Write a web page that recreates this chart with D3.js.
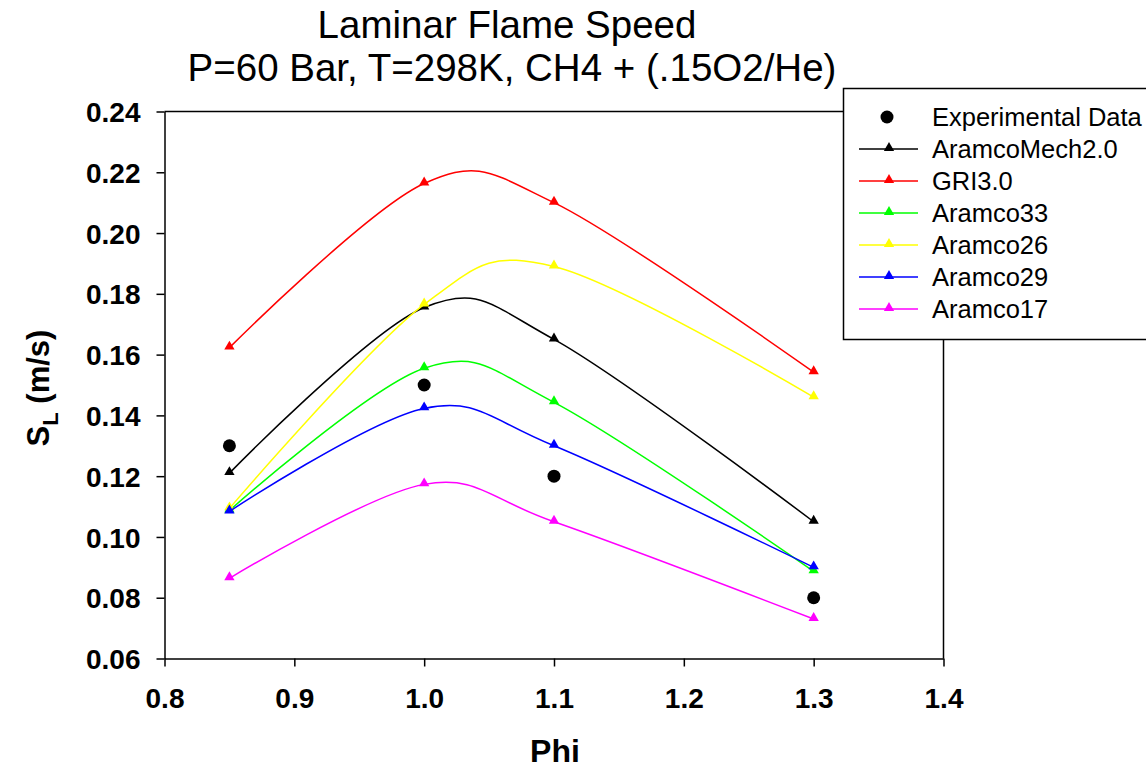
<!DOCTYPE html>
<html>
<head>
<meta charset="utf-8">
<script src="https://cdn.jsdelivr.net/npm/d3@7"></script>
<style>
  body { margin: 0; background: #fff; }
  svg { font-family: "Liberation Sans", Arial, sans-serif; }
  .tick text { font-weight: bold; font-size: 28px; fill: #000; }
</style>
</head>
<body>
<svg width="1146" height="768"></svg>
<script>
// phi values
var phi = [0.85, 1.0, 1.1, 1.3]

var expData = [0.130, 0.150, 0.120, 0.080]
var aramcoMech20 = [0.121, 0.1755, 0.165, 0.105]
var gri30 = [0.1623, 0.2163, 0.210, 0.1542]
var aramco33 = [0.1087, 0.1555, 0.1443, 0.0887]
var aramco26 = [0.1094, 0.1765, 0.189, 0.146]
var aramco29 = [0.1084, 0.1423, 0.130, 0.090]
var aramco17 = [0.0864, 0.1173, 0.105, 0.073]

var seriesNames = ['AramcoMech2.0', 'GRI3.0', 'Aramco33', 'Aramco26', 'Aramco29', 'Aramco17']
var seriesColors = ['#000000', '#ff0000', '#00ff00', '#ffff00', '#0000ff', '#ff00ff']
var seriesValues = [aramcoMech20, gri30, aramco33, aramco26, aramco29, aramco17]

var xTicks = [0.8, 0.9, 1.0, 1.1, 1.2, 1.3, 1.4]
var yTicks = [0.06, 0.08, 0.10, 0.12, 0.14, 0.16, 0.18, 0.20, 0.22, 0.24]

var svg = d3.select('svg')
var margin = { left: 164.5, top: 111.5, right: 943.5, bottom: 658.5 }

var x = d3.scaleLinear().domain([0.8, 1.4]).range([margin.left, margin.right])
var y = d3.scaleLinear().domain([0.06, 0.24]).range([margin.bottom, margin.top])

// frame (top and right sides)
svg.append('path')
  .attr('d', 'M' + margin.left + ',' + margin.top + 'H' + margin.right + 'V' + margin.bottom)
  .attr('fill', 'none').attr('stroke', '#000').attr('stroke-width', 1.5)

var xAxis = svg.append('g')
  .attr('transform', 'translate(0,' + margin.bottom + ')')
  .call(d3.axisBottom(x).tickValues(xTicks).tickFormat(d3.format('.1f')).tickSizeInner(8).tickSizeOuter(0).tickPadding(22))
var yAxis = svg.append('g')
  .attr('transform', 'translate(' + margin.left + ',0)')
  .call(d3.axisLeft(y).tickValues(yTicks).tickFormat(d3.format('.2f')).tickSizeInner(8).tickSizeOuter(0).tickPadding(16))
svg.selectAll('.domain, .tick line').attr('stroke', '#000').attr('stroke-width', 1.5)
yAxis.selectAll('.tick text').attr('dy', '0.36em')
xAxis.selectAll('.tick text').attr('dy', '0.71em')

var tri = d3.symbol().type(d3.symbolTriangle).size(46)

var line = d3.line()
  .x(function(d, i) { return x(phi[i]) })
  .y(function(d) { return y(d) })
  .curve(d3.curveCardinal.tension(0))

seriesValues.forEach(function(vals, k) {
  var g = svg.append('g')
  g.append('path')
    .attr('d', line(vals))
    .attr('fill', 'none')
    .attr('stroke', seriesColors[k])
    .attr('stroke-width', 1.5)
  g.selectAll('path.mark')
    .data(vals)
    .enter().append('path')
    .attr('class', 'mark')
    .attr('d', tri)
    .attr('transform', function(d, i) { return 'translate(' + x(phi[i]) + ',' + (y(d) - 1) + ')' })
    .attr('fill', seriesColors[k])
})

svg.append('g').selectAll('circle')
  .data(expData)
  .enter().append('circle')
  .attr('cx', function(d, i) { return x(phi[i]) })
  .attr('cy', function(d) { return y(d) })
  .attr('r', 6.5)
  .attr('fill', '#000')

// title
svg.append('text').attr('x', 507).attr('y', 38).attr('text-anchor', 'middle')
  .attr('font-size', 38.5).text('Laminar Flame Speed')
svg.append('text').attr('x', 512).attr('y', 81).attr('text-anchor', 'middle')
  .attr('font-size', 38.5).text('P=60 Bar, T=298K, CH4 + (.15O2/He)')

// axis titles
svg.append('text').attr('x', 555).attr('y', 762).attr('text-anchor', 'middle')
  .attr('font-size', 32).attr('font-weight', 'bold').text('Phi')
var yl = svg.append('text')
  .attr('transform', 'translate(49,388) rotate(-90)')
  .attr('text-anchor', 'middle')
  .attr('font-size', 31).attr('font-weight', 'bold')
yl.append('tspan').text('S')
yl.append('tspan').attr('dy', 9).attr('font-size', 22).text('L')
yl.append('tspan').attr('dy', -9).text(' (m/s)')

// legend
var lg = svg.append('g').attr('transform', 'translate(843,88)')
lg.append('rect').attr('x', 0.5).attr('y', 0.5).attr('width', 320).attr('height', 251)
  .attr('fill', '#fff').attr('stroke', '#000').attr('stroke-width', 1.5)
var rowY = function(i) { return 29 + i * 32 }
lg.append('circle').attr('cx', 44).attr('cy', rowY(0)).attr('r', 6.5).attr('fill', '#000')
lg.append('text').attr('x', 89).attr('y', rowY(0)).attr('dy', '0.36em')
  .attr('font-size', 25.5).text('Experimental Data')
seriesNames.forEach(function(name, k) {
  var yy = rowY(k + 1)
  lg.append('line').attr('x1', 16).attr('x2', 75).attr('y1', yy).attr('y2', yy)
    .attr('stroke', seriesColors[k]).attr('stroke-width', 1.5)
  lg.append('path').attr('d', tri).attr('transform', 'translate(46,' + (yy - 1) + ')')
    .attr('fill', seriesColors[k])
  lg.append('text').attr('x', 89).attr('y', yy).attr('dy', '0.36em')
    .attr('font-size', 25.5).text(name)
})
</script>
</body>
</html>
